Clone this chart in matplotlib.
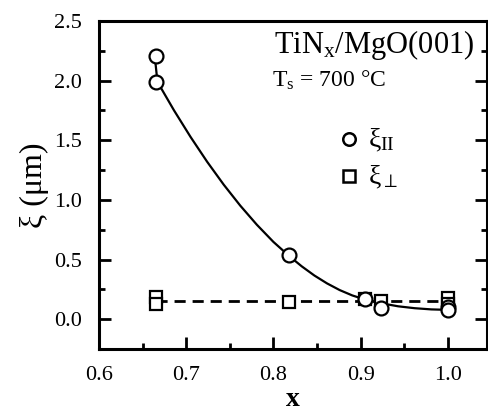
import matplotlib
matplotlib.use("Agg")
import matplotlib.pyplot as plt
from matplotlib.ticker import MultipleLocator, FormatStrFormatter

# data
x_par = [0.665, 0.665, 0.818, 0.905, 0.923, 1.0, 1.0]
y_par = [2.21, 1.99, 0.54, 0.17, 0.09, 0.10, 0.08]
x_perp = [0.665, 0.665, 0.818, 0.905, 0.923, 1.0, 1.0]
y_perp = [0.19, 0.13, 0.14, 0.17, 0.15, 0.18, 0.13]
# fitted curve
fit_x = [0.664, 0.667, 0.686, 0.705, 0.724, 0.743, 0.762, 0.781, 0.800, 0.818,
         0.8325, 0.847, 0.8615, 0.876, 0.8905, 0.905, 0.924, 0.943, 0.962, 0.981, 1.0]
fit_y = [2.20, 1.99, 1.751, 1.528, 1.320, 1.128, 0.952, 0.792, 0.648, 0.530,
         0.443, 0.366, 0.300, 0.244, 0.199, 0.165, 0.133, 0.108, 0.092, 0.082, 0.078]
flat_x = [0.665, 1.0]
flat_y = [0.15, 0.15]

plt.rcParams['font.family'] = ['Liberation Serif', 'DejaVu Serif']
plt.rcParams['mathtext.fontset'] = 'custom'
plt.rcParams['mathtext.rm'] = 'Liberation Serif'
plt.rcParams['mathtext.it'] = 'Liberation Serif:italic'

fig = plt.figure(figsize=(4.89, 4.13), dpi=100)
ax = fig.add_axes([0.2025, 0.155, 0.7935, 0.794])

ax.plot(fit_x, fit_y, color='black', lw=1.6, zorder=2)
ax.plot(flat_x, flat_y, color='black', lw=2.0, ls=(0, (4, 2.5)), zorder=2)
ax.plot(x_perp, y_perp, ls='none', marker='s', ms=9, mfc='white', mec='black', mew=1.6, zorder=3)
ax.plot(x_par, y_par, ls='none', marker='o', ms=10, mfc='white', mec='black', mew=1.6, zorder=4)

ax.set_xlim(0.6, 1.045)
ax.set_ylim(-0.25, 2.5)
ax.xaxis.set_major_locator(MultipleLocator(0.1))
ax.xaxis.set_minor_locator(MultipleLocator(0.05))
ax.yaxis.set_major_locator(MultipleLocator(0.5))
ax.yaxis.set_minor_locator(MultipleLocator(0.25))
ax.xaxis.set_major_formatter(FormatStrFormatter('%.1f'))
ax.yaxis.set_major_formatter(FormatStrFormatter('%.1f'))
ax.tick_params(which='both', direction='in', right=True, top=False, labelsize=16, width=2)
ax.tick_params(which='major', length=8.5)
ax.tick_params(which='minor', length=4.5)
ax.tick_params(axis='x', pad=12)
ax.tick_params(axis='y', pad=12)
for s in ax.spines.values():
    s.set_linewidth(2.2)

ax.set_xlabel('x', fontsize=20, fontweight='bold', labelpad=2)
ax.set_ylabel('ξ (μm)', fontsize=23, labelpad=4)

ax.text(1.031, 2.30, r'TiN$_\mathregular{x}$/MgO(001)', fontsize=22, ha='right', va='center')
ax.text(0.798, 2.00, r'T$_\mathregular{s}$ = 700 °C', fontsize=17, ha='left', va='center')

ax.plot([0.887], [1.515], ls='none', marker='o', ms=9, mfc='white', mec='black', mew=1.8)
ax.plot([0.887], [1.20], ls='none', marker='s', ms=8.5, mfc='white', mec='black', mew=1.8)
ax.text(0.908, 1.50, r'ξ$_\mathregular{II}$', fontsize=20, ha='left', va='center')
ax.text(0.908, 1.19, r'ξ$_\mathregular{\perp}$', fontsize=20, ha='left', va='center')

fig.savefig('out.png', dpi=100)
